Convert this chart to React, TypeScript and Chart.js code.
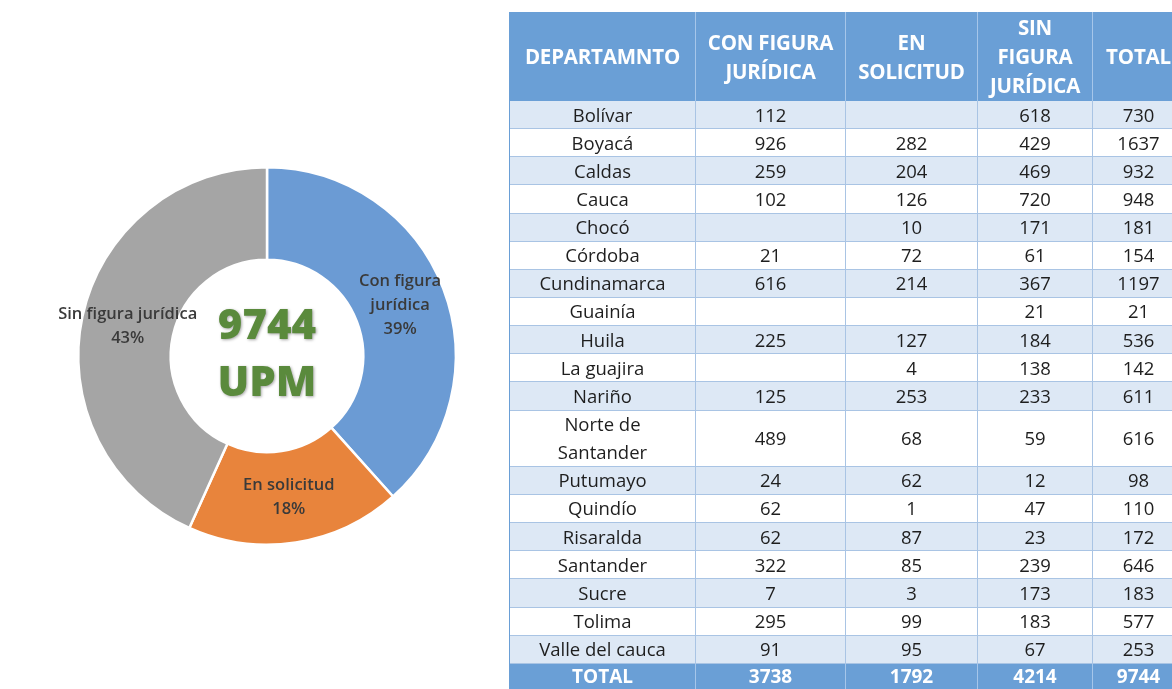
import React, { useEffect, useRef } from "react";
import { Chart, registerables } from "chart.js";

Chart.register(...registerables);

// ---------- Donut data ----------
const CATEGORIES = ["Con figura jurídica", "En solicitud", "Sin figura jurídica"];
const SLICE_LABEL_LINES = [["Con figura", "jurídica"], ["En solicitud"], ["Sin figura jurídica"]];
const SLICE_VALUES = [3738, 1792, 4214];
const SLICE_PERCENTS = ["39%", "18%", "43%"];
const SLICE_COLORS = ["#6b9bd4", "#e8843c", "#a5a5a5"];
const CENTER_TEXT = ["9744", "UPM"];

// ---------- Table data ----------
const TABLE_HEADERS = [
  ["DEPARTAMNTO"],
  ["CON FIGURA", "JURÍDICA"],
  ["EN", "SOLICITUD"],
  ["SIN", "FIGURA", "JURÍDICA"],
  ["TOTAL"],
];
const DEPARTAMENTOS = [
  "Bolívar", "Boyacá", "Caldas", "Cauca", "Chocó", "Córdoba", "Cundinamarca", "Guainía",
  "Huila", "La guajira", "Nariño", "Norte de\nSantander", "Putumayo", "Quindío",
  "Risaralda", "Santander", "Sucre", "Tolima", "Valle del cauca",
];
const CON_FIGURA = [112, 926, 259, 102, null, 21, 616, null, 225, null, 125, 489, 24, 62, 62, 322, 7, 295, 91];
const EN_SOLICITUD = [null, 282, 204, 126, 10, 72, 214, null, 127, 4, 253, 68, 62, 1, 87, 85, 3, 99, 95];
const SIN_FIGURA = [618, 429, 469, 720, 171, 61, 367, 21, 184, 138, 233, 59, 12, 47, 23, 239, 173, 183, 67];
const TOTALES = [730, 1637, 932, 948, 181, 154, 1197, 21, 536, 142, 611, 616, 98, 110, 172, 646, 183, 577, 253];
const TOTAL_ROW = ["TOTAL", "3738", "1792", "4214", "9744"];

const FONT = "'Open Sans', 'DejaVu Sans', sans-serif";

function DonutChart() {
  const ref = useRef<HTMLCanvasElement | null>(null);
  useEffect(() => {
    if (!ref.current) return;
    const labelPlugin = {
      id: "sliceLabels",
      afterDatasetsDraw(chart: any) {
        const ctx = chart.ctx;
        const meta = chart.getDatasetMeta(0);
        ctx.save();
        ctx.textAlign = "center";
        ctx.textBaseline = "middle";
        ctx.fillStyle = "#3a3a3a";
        ctx.font = `600 16.5px ${FONT}`;
        meta.data.forEach((arc: any, i: number) => {
          const p = arc.tooltipPosition();
          const lines = [...SLICE_LABEL_LINES[i], SLICE_PERCENTS[i]];
          const lh = 24;
          const y0 = p.y - ((lines.length - 1) * lh) / 2;
          lines.forEach((t, k) => ctx.fillText(t, p.x, y0 + k * lh));
        });
        // center text
        const a = chart.chartArea;
        const cx = (a.left + a.right) / 2;
        const cy = (a.top + a.bottom) / 2;
        ctx.font = `800 42px ${FONT}`;
        ctx.shadowColor = "rgba(0,0,0,0.35)";
        ctx.shadowBlur = 3;
        ctx.shadowOffsetX = 1;
        ctx.shadowOffsetY = 1;
        ctx.fillStyle = "#5a8a3c";
        ctx.fillText(CENTER_TEXT[0], cx, cy - 29);
        ctx.fillText(CENTER_TEXT[1], cx, cy + 28);
        ctx.restore();
      },
    };
    const chart = new Chart(ref.current, {
      type: "doughnut",
      data: {
        labels: CATEGORIES,
        datasets: [
          {
            data: SLICE_VALUES,
            backgroundColor: SLICE_COLORS,
            borderColor: "#ffffff",
            borderWidth: 2.5,
          },
        ],
      },
      options: {
        animation: false,
        responsive: false,
        cutout: "51%",
        layout: { padding: { left: 60, right: 60, top: 10, bottom: 10 } },
        plugins: { legend: { display: false }, tooltip: { enabled: false } },
      },
      plugins: [labelPlugin],
    });
    return () => chart.destroy();
  }, []);
  return <canvas ref={ref} width={500} height={400} style={{ position: "absolute", left: 17, top: 156 }} />;
}

function Table() {
  const colWidths = [186, 150, 132, 115, 92];
  const rowH = 28.15;
  const rows = DEPARTAMENTOS.map((d, i) => [d, CON_FIGURA[i], EN_SOLICITUD[i], SIN_FIGURA[i], TOTALES[i]]);
  const rowHeights = DEPARTAMENTOS.map((d) => d.split("\n").length * rowH);
  const gridRows = ["89px", ...rowHeights.map((h) => `${h}px`), "25px"].join(" ");
  const headBg = "#6a9fd6";
  const cells: React.ReactNode[] = [];
  TABLE_HEADERS.forEach((h, c) => {
    cells.push(
      <div
        key={`h${c}`}
        style={{
          background: headBg,
          color: "#fff",
          fontWeight: 700,
          fontSize: 20.5,
          lineHeight: "29px",
          letterSpacing: -0.2,
          display: "flex",
          alignItems: "center",
          justifyContent: "center",
          textAlign: "center",
          borderRight: "1px solid #a6c6ea",
          boxSizing: "border-box",
          whiteSpace: "nowrap",
        }}
      >
        <div>
          {h.map((t, k) => (
            <div key={k}>{t}</div>
          ))}
        </div>
      </div>
    );
  });
  rows.forEach((r, i) => {
    const bg = i % 2 === 0 ? "#dde8f5" : "#ffffff";
    r.forEach((v, c) => {
      cells.push(
        <div
          key={`r${i}c${c}`}
          style={{
            background: bg,
            color: "#1e1e1e",
            fontSize: 18.5,
            lineHeight: `${rowH}px`,
            display: "flex",
            alignItems: "center",
            justifyContent: "center",
            textAlign: "center",
            whiteSpace: "pre-line",
            borderRight: "1px solid #a9c4e4",
            borderBottom: "1px solid #a9c4e4",
            boxSizing: "border-box",
          }}
        >
          {v === null ? "" : String(v)}
        </div>
      );
    });
  });
  TOTAL_ROW.forEach((v, c) => {
    cells.push(
      <div
        key={`t${c}`}
        style={{
          background: headBg,
          color: "#fff",
          fontWeight: 700,
          fontSize: 19,
          lineHeight: "25px",
          display: "flex",
          alignItems: "center",
          justifyContent: "center",
          borderRight: "1px solid #a6c6ea",
          boxSizing: "border-box",
        }}
      >
        {v}
      </div>
    );
  });
  return (
    <div
      style={{
        position: "absolute",
        left: 509,
        top: 12,
        display: "grid",
        gridTemplateColumns: colWidths.map((w) => `${w}px`).join(" "),
        gridTemplateRows: gridRows,
        borderLeft: "1px solid #6a9fd6",
        fontFamily: FONT,
      }}
    >
      {cells}
    </div>
  );
}

export default function App() {
  useEffect(() => {
    document.body.style.margin = "0";
  }, []);
  return (
    <div
      style={{
        position: "fixed",
        left: 0,
        top: 0,
        width: 1172,
        height: 689,
        overflow: "hidden",
        background: "#ffffff",
        fontFamily: FONT,
      }}
    >
      <DonutChart />
      <Table />
    </div>
  );
}
